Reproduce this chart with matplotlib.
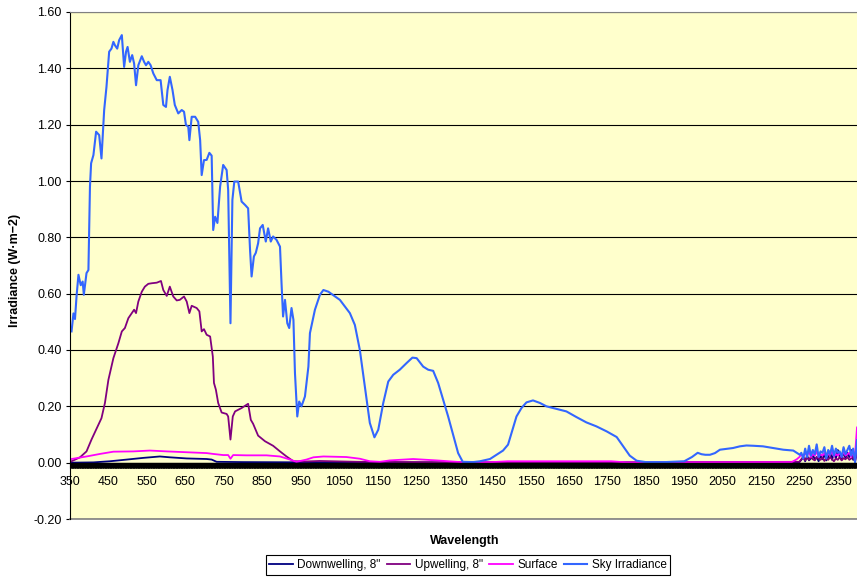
import numpy as np
import matplotlib
matplotlib.use('Agg')
import matplotlib.pyplot as plt
from matplotlib.ticker import MultipleLocator, FormatStrFormatter

plt.rcParams['font.family'] = ['Liberation Sans', 'DejaVu Sans']

# values (wavelength nm, irradiance)
noise_wl = [2255, 2260, 2265, 2270, 2275, 2280, 2285, 2290, 2295, 2300,
            2305, 2310, 2315, 2320, 2325, 2330, 2335, 2340, 2345, 2350,
            2355, 2360, 2365, 2370, 2375, 2380, 2385, 2390, 2395, 2400]

sky_wl = [354, 359, 363, 367, 372, 378, 383, 386, 393, 398, 402, 405, 411, 418, 426, 432,
          439, 445, 452, 458, 463, 467, 473, 478, 485, 491, 496, 500, 506, 512, 517, 522,
          528, 537, 543, 548, 554, 560, 567, 576, 586, 593, 600, 604, 610, 617, 623, 632,
          641, 647, 652, 658, 661, 667, 676, 684, 689, 693, 699, 706, 713, 719, 723, 728,
          734, 741, 749, 758, 762, 768, 773, 778, 788, 797, 806, 814, 819, 823, 829, 834,
          840, 845, 852, 860, 866, 873, 879, 888, 897, 901, 905, 910, 916, 921, 927, 932,
          936, 942, 947, 953, 962, 971, 975, 988, 1001, 1010, 1023, 1053, 1079, 1092, 1105,
          1118, 1131, 1143, 1153, 1166, 1179, 1192, 1209, 1227, 1242, 1253, 1270, 1283, 1296,
          1309, 1322, 1335, 1348, 1361, 1373, 1400, 1418, 1444, 1461, 1478, 1491, 1500, 1513,
          1526, 1539, 1556, 1574, 1591, 1617, 1643, 1669, 1695, 1721, 1748, 1774, 1791, 1808,
          1826, 1850, 1900, 1950, 1970, 1985, 1995, 2005, 2017, 2030, 2043, 2060, 2077, 2095,
          2112, 2130, 2155, 2182, 2208, 2234, 2251] + noise_wl
sky_val = [0.466, 0.53, 0.51, 0.59, 0.667, 0.63, 0.643, 0.596, 0.673, 0.684, 0.98, 1.063, 1.092,
           1.175, 1.163, 1.08, 1.252, 1.334, 1.459, 1.47, 1.494, 1.482, 1.47, 1.5, 1.518, 1.405,
           1.459, 1.476, 1.423, 1.447, 1.417, 1.34, 1.411, 1.443, 1.423, 1.411, 1.423, 1.411,
           1.382, 1.358, 1.358, 1.27, 1.263, 1.323, 1.37, 1.323, 1.27, 1.24, 1.252, 1.246, 1.199,
           1.193, 1.145, 1.228, 1.228, 1.21, 1.145, 1.021, 1.074, 1.075, 1.10, 1.09, 0.826, 0.873,
           0.851, 0.98, 1.057, 1.039, 0.968, 0.495, 0.933, 0.998, 0.998, 0.927, 0.915, 0.903,
           0.755, 0.661, 0.732, 0.745, 0.779, 0.832, 0.844, 0.785, 0.832, 0.785, 0.803, 0.791,
           0.767, 0.637, 0.519, 0.578, 0.495, 0.478, 0.549, 0.507, 0.318, 0.164, 0.217, 0.2,
           0.235, 0.341, 0.46, 0.543, 0.596, 0.613, 0.607, 0.578, 0.531, 0.489, 0.4, 0.271,
           0.141, 0.09, 0.117, 0.212, 0.288, 0.312, 0.33, 0.354, 0.373, 0.371, 0.341, 0.33,
           0.326, 0.283, 0.223, 0.164, 0.099, 0.034, 0.003, 0.002, 0.005, 0.013, 0.028, 0.043,
           0.064, 0.105, 0.164, 0.194, 0.214, 0.221, 0.212, 0.2, 0.191, 0.182, 0.162, 0.143,
           0.129, 0.111, 0.091, 0.058, 0.025, 0.007, 0.002, 0.002, 0.005, 0.02, 0.035, 0.03,
           0.028, 0.028, 0.034, 0.046, 0.049, 0.052, 0.058, 0.061, 0.06, 0.058, 0.052, 0.046,
           0.043, 0.028,
           0.035, 0.015, 0.05, 0.02, 0.06, 0.025, 0.045, 0.03, 0.065, 0.02, 0.04, 0.035, 0.055,
           0.015, 0.045, 0.03, 0.06, 0.025, 0.05, 0.035, 0.04, 0.02, 0.055, 0.03, 0.045, 0.06,
           0.025, 0.05, 0.0, 0.08]

up_wl = [354, 376, 393, 406, 420, 432, 441, 450, 463, 476, 485, 493, 502, 511, 517, 522, 528,
         537, 545, 554, 563, 576, 587, 593, 602, 610, 619, 628, 636, 647, 654, 661, 667, 680,
         687, 693, 699, 706, 715, 722, 725, 730, 736, 745, 758, 762, 768, 774, 780, 797, 814,
         821, 827, 840, 858, 879, 897, 914, 932, 960, 1000, 1100, 1400, 1800, 2250] + noise_wl
up_val = [0.005, 0.019, 0.04, 0.082, 0.123, 0.158, 0.212, 0.294, 0.371, 0.424, 0.466, 0.478,
          0.513, 0.531, 0.543, 0.531, 0.572, 0.607, 0.625, 0.635, 0.637, 0.639, 0.645, 0.613,
          0.592, 0.625, 0.59, 0.576, 0.578, 0.59, 0.572, 0.531, 0.557, 0.549, 0.537, 0.466,
          0.474, 0.454, 0.448, 0.377, 0.283, 0.259, 0.212, 0.178, 0.173, 0.164, 0.082, 0.164,
          0.182, 0.194, 0.209, 0.152, 0.138, 0.096, 0.076, 0.06, 0.04, 0.022, 0.005, 0.004,
          0.006, 0.003, 0.001, 0.001, 0.003,
          0.012, 0.02, 0.008, 0.018, 0.01, 0.022, 0.012, 0.008, 0.02, 0.015, 0.01, 0.018, 0.006,
          0.016, 0.01, 0.02, 0.012, 0.005, 0.015, 0.01, 0.02, 0.008, 0.016, 0.012, 0.02, 0.01,
          0.015, 0.02, 0.005, 0.03]

surf_wl = [354, 393, 428, 463, 515, 558, 602, 654, 706, 723, 749, 762, 768, 775, 810, 862, 897,
           923, 940, 966, 984, 1010, 1070, 1105, 1131, 1157, 1183, 1244, 1305, 1357, 1380, 1450,
           1490, 1760, 1800, 2230, 2243, 2250] + noise_wl
surf_val = [0.013, 0.022, 0.031, 0.039, 0.04, 0.043, 0.04, 0.037, 0.034, 0.031, 0.027, 0.027,
            0.014, 0.027, 0.026, 0.026, 0.022, 0.011, 0.003, 0.011, 0.019, 0.022, 0.02, 0.014,
            0.005, 0.003, 0.008, 0.013, 0.008, 0.003, 0.001, 0.002, 0.005, 0.005, 0.001, 0.002,
            0.012, 0.02,
            0.03, 0.02, 0.035, 0.025, 0.04, 0.02, 0.03, 0.025, 0.04, 0.02, 0.03, 0.025, 0.035,
            0.02, 0.03, 0.028, 0.04, 0.022, 0.03, 0.025, 0.035, 0.02, 0.04, 0.025, 0.03, 0.035,
            0.02, 0.04, 0.03, 0.125]

down_wl = [354, 411, 454, 498, 541, 584, 610, 654, 706, 719, 732, 800, 1000, 1400, 1800, 2250] + noise_wl
down_val = [0.0, 0.001, 0.005, 0.011, 0.017, 0.022, 0.019, 0.015, 0.013, 0.011, 0.003, 0.002,
            0.001, 0.001, 0.001, 0.002,
            0.01, 0.02, 0.005, 0.025, 0.008, 0.015, 0.03, 0.01, 0.02, 0.005, 0.025, 0.012, 0.03,
            0.008, 0.02, 0.04, 0.01, 0.035, 0.015, 0.045, 0.02, 0.01, 0.04, 0.015, 0.035, 0.02,
            0.045, 0.01, 0.02, 0.04]

xticks = [350, 450, 550, 650, 750, 850, 950, 1050, 1150, 1250, 1350, 1450, 1550, 1650, 1750,
          1850, 1950, 2050, 2150, 2250, 2350]

fig = plt.figure(figsize=(8.57, 5.77), dpi=100)
ax = fig.add_axes([70 / 857, (577 - 519) / 577, 787 / 857, 507 / 577])
ax.set_facecolor('#FFFFCC')

ax.plot(down_wl, down_val, color='#000080', lw=1.3, label='Downwelling, 8"')
ax.plot(up_wl, up_val, color='#800080', lw=1.3, label='Upwelling, 8"')
ax.plot(surf_wl, surf_val, color='#FF00FF', lw=1.3, label='Surface')
ax.plot(sky_wl, sky_val, color='#3366FF', lw=1.5, label='Sky Irradiance')

ax.set_xlim(350, 2400)
ax.set_ylim(-0.2, 1.6)
ax.yaxis.set_major_locator(MultipleLocator(0.2))
ax.yaxis.set_major_formatter(FormatStrFormatter('%.2f'))
ax.set_xticks(xticks)
ax.xaxis.set_minor_locator(MultipleLocator(1))
ax.grid(axis='y', color='black', lw=0.8)
ax.set_axisbelow(True)
# plot-area border at the bottom
ax.axhline(-0.2, color='#808080', lw=1.2, clip_on=False)

ax.spines['bottom'].set_position(('data', 0))
ax.spines['bottom'].set_linewidth(1.0)
ax.spines['right'].set_visible(False)
ax.spines['top'].set_color('#808080')
ax.tick_params(axis='x', which='major', direction='out', length=3.6, width=0.8, pad=6, labelsize=9)
ax.tick_params(axis='x', which='minor', direction='out', length=3.6, width=0.7)
ax.tick_params(axis='y', direction='out', length=3, width=0.8, pad=3, labelsize=9)

fig.text(15 / 857, 1 - 270 / 577, 'Irradiance (W·m−2)', rotation=90, ha='center', va='center',
         fontsize=9, fontweight='bold')
fig.text(465 / 857, 1 - 541 / 577, 'Wavelength', ha='center', va='center', fontsize=9,
         fontweight='bold')

leg = fig.legend(loc='center', bbox_to_anchor=(468 / 857, 1 - 565 / 577), ncol=4, fontsize=8.5,
                 frameon=True, fancybox=False, edgecolor='black', framealpha=1,
                 handlelength=2.0, handletextpad=0.4, columnspacing=0.5, borderpad=0.3)
leg.get_frame().set_linewidth(0.8)

fig.savefig('out.png', dpi=100)
